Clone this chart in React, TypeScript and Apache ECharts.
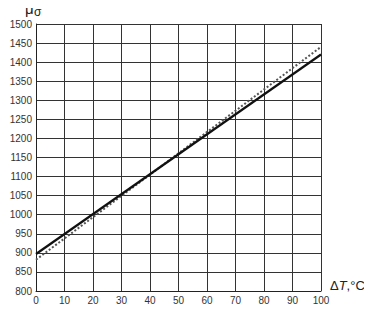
import React, { useEffect, useRef } from "react";
import * as echarts from "echarts";

const xValues = [0, 100];
const solidValues = [897, 1420];
const dottedValues = [882, 1440];
const yTicks = { min: 800, max: 1500, interval: 50 };
const xTicks = { min: 0, max: 100, interval: 10 };

export default function App() {
  const ref = useRef<HTMLDivElement>(null);
  useEffect(() => {
    const chart = echarts.init(ref.current!, undefined, { renderer: "svg" });
    const font = "'Liberation Sans', Arial, sans-serif";
    chart.setOption({
      animation: false,
      backgroundColor: "#fff",
      grid: { left: 36, right: 51, top: 24, bottom: 21, containLabel: false },
      xAxis: {
        type: "value",
        min: xTicks.min,
        max: xTicks.max,
        interval: xTicks.interval,
        axisLine: { show: true, lineStyle: { color: "#222", width: 1 } },
        axisTick: { show: false },
        axisLabel: { color: "#333", fontSize: 10, fontFamily: font, margin: 4, formatter: (v: number) => String(v) },
        splitLine: { show: true, lineStyle: { color: "#333", width: 1 } },
      },
      yAxis: {
        type: "value",
        min: yTicks.min,
        max: yTicks.max,
        interval: yTicks.interval,
        axisLine: { show: true, lineStyle: { color: "#222", width: 1 } },
        axisTick: { show: false },
        axisLabel: { color: "#333", fontSize: 10, fontFamily: font, margin: 4, formatter: (v: number) => String(v) },
        splitLine: { show: true, lineStyle: { color: "#333", width: 1 } },
      },
      graphic: [
        {
          type: "text",
          left: 25,
          top: 1,
          style: { text: "μ", fontSize: 15, fontFamily: font, fill: "#222" },
        },
        {
          type: "text",
          left: 34,
          top: 6,
          style: { text: "σ", fontSize: 12, fontFamily: font, fill: "#222" },
        },
        {
          type: "text",
          left: 330,
          top: 279,
          style: {
            rich: {
              a: { fontSize: 13, fontFamily: font, fill: "#222" },
              b: { fontSize: 13, fontFamily: font, fontStyle: "italic", fill: "#222" },
            },
            text: "{a|Δ}{b|T}{a|,°C}",
          },
        },
      ],
      series: [
        {
          type: "line",
          data: xValues.map((x, i) => [x, dottedValues[i]]),
          symbol: "none",
          lineStyle: { color: "#555", width: 2, type: [2, 2] },
          z: 3,
        },
        {
          type: "line",
          data: xValues.map((x, i) => [x, solidValues[i]]),
          symbol: "none",
          lineStyle: { color: "#111", width: 2.2 },
          z: 4,
        },
      ],
    });
    return () => chart.dispose();
  }, []);
  return <div ref={ref} style={{ width: 372, height: 312, margin: -8 }} />;
}
